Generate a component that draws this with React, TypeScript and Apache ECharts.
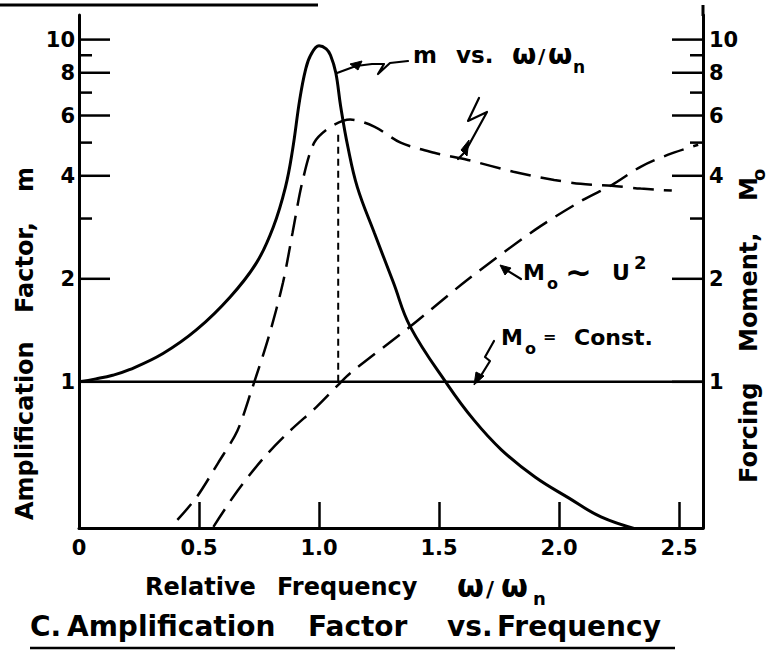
import React, { useEffect, useRef } from "react";
import * as echarts from "echarts";

// ---- axis ranges / ticks ----
const X_MIN = 0;
const X_MAX = 2.6;
const X_INTERVAL = 0.5;
const Y_MIN = 0.374;
const Y_MAX = 11.8;
const yMajorTicks = [1, 2, 4, 6, 8, 10];
const yMinorTicks = [3, 5, 7, 9];

// ---- series (x = ω/ωn, y = value on log scale) ----
// Amplification factor m vs ω/ωn (solid)
const mCurve: number[][] = [
  [0, 1.0], [0.07, 1.02], [0.14, 1.045], [0.21, 1.085], [0.35, 1.21], [0.49, 1.42], [0.63, 1.77],
  [0.74, 2.23], [0.81, 2.84], [0.86, 3.7], [0.89, 4.77], [0.92, 6.7], [0.944, 8.17],
  [0.965, 9.0], [1.0, 9.6], [1.03, 9.4], [1.048, 9.0], [1.07, 8.0], [1.09, 6.4],
  [1.12, 4.87], [1.16, 3.7], [1.23, 2.73], [1.31, 1.95], [1.38, 1.45], [1.536, 0.98],
  [1.645, 0.774], [1.76, 0.633], [1.9, 0.527], [2.04, 0.458], [2.175, 0.403], [2.33, 0.37],
];
// response with Mo ~ U^2 (dashed)
const responseU2: number[][] = [
  [0.41, 0.395], [0.49, 0.46], [0.58, 0.58], [0.66, 0.72], [0.72, 0.95], [0.79, 1.35],
  [0.85, 1.95], [0.89, 2.73], [0.93, 3.82], [0.98, 5.0], [1.05, 5.57], [1.13, 5.84],
  [1.23, 5.57], [1.34, 5.0], [1.48, 4.67], [1.62, 4.45], [1.81, 4.11], [1.98, 3.89],
  [2.09, 3.79], [2.22, 3.74], [2.34, 3.67], [2.47, 3.62],
];
// forcing moment Mo ~ U^2 (dashed)
const momentU2: number[][] = [
  [0.56, 0.377], [0.66, 0.48], [0.77, 0.6], [0.88, 0.72], [0.99, 0.845], [1.08, 0.98],
  [1.13, 1.06], [1.38, 1.45], [1.62, 1.99], [1.9, 2.78], [2.1, 3.4], [2.22, 3.76],
  [2.34, 4.25], [2.455, 4.61], [2.58, 4.93],
];
// Mo = Const. (solid horizontal)
const momentConst: number[][] = [[0, 1], [2.6, 1]];
// dotted marker
const markerLine: number[][] = [[1.08, 1], [1.08, 5.3]];

const FONT = '"DejaVu Sans", Verdana, sans-serif';
const f = (size: number, w = "bold") => `${w} ${size}px ${FONT}`;

function txt(text: string, x: number, y: number, size: number, align = "left", rot = 0) {
  return {
    type: "text",
    x,
    y,
    rotation: rot,
    silent: true,
    style: {
      text,
      font: f(size),
      fill: "#000",
      align,
      textAlign: align,
      verticalAlign: "middle",
      textVerticalAlign: "middle",
    },
  };
}
function pl(points: number[][], w = 2.2) {
  return { type: "polyline", silent: true, shape: { points }, style: { stroke: "#000", lineWidth: w, fill: null, lineJoin: "round", lineCap: "round" } };
}
function pg(points: number[][]) {
  return { type: "polygon", silent: true, shape: { points }, style: { fill: "#000", stroke: "#000", lineWidth: 1 } };
}

export default function App() {
  const ref = useRef<HTMLDivElement>(null);
  useEffect(() => {
    if (!ref.current) return;
    const chart = echarts.init(ref.current, null, { renderer: "svg" });
    const tickData: number[][] = [];
    yMajorTicks.forEach((v) => { tickData.push([X_MIN, v, 1]); tickData.push([X_MAX, v, 1]); });
    yMinorTicks.forEach((v) => { tickData.push([X_MIN, v, 0]); tickData.push([X_MAX, v, 0]); });

    const R = Math.PI / 2;
    const option: any = {
      animation: false,
      backgroundColor: "#fff",
      grid: { left: 79, right: 76, top: 15, bottom: 124, containLabel: false, outerBoundsMode: "none" },
      xAxis: {
        type: "value",
        min: X_MIN,
        max: X_MAX,
        interval: X_INTERVAL,
        axisLine: { show: true, lineStyle: { color: "#000", width: 3 } },
        axisTick: { show: true, inside: true, length: 26, lineStyle: { color: "#000", width: 2.5 } },
        axisLabel: {
          show: true, margin: 9, color: "#000", fontFamily: FONT, fontWeight: "bold", fontSize: 21,
          showMaxLabel: false,
          formatter: (v: number) => (Math.abs(v - 2.6) < 1e-6 ? "" : v === 0 ? "0" : v.toFixed(1)),
        },
        splitLine: { show: false },
      },
      yAxis: [
        {
          type: "log", logBase: 10, min: Y_MIN, max: Y_MAX, position: "left",
          axisLine: { show: true, lineStyle: { color: "#000", width: 3 } },
          axisTick: { show: false }, axisLabel: { show: false }, splitLine: { show: false },
        },
        {
          type: "log", logBase: 10, min: Y_MIN, max: Y_MAX, position: "right",
          axisLine: { show: true, lineStyle: { color: "#000", width: 3 } },
          axisTick: { show: false }, axisLabel: { show: false }, splitLine: { show: false },
        },
      ],
      series: [
        {
          type: "line", data: mCurve, showSymbol: false, symbol: "none", smooth: 0.4,
          lineStyle: { color: "#000", width: 3 }, silent: true, z: 3,
        },
        {
          type: "line", data: responseU2, showSymbol: false, symbol: "none", smooth: 0.3,
          lineStyle: { color: "#000", width: 2.5, type: [21, 10] }, silent: true,
        },
        {
          type: "line", data: momentU2, showSymbol: false, symbol: "none", smooth: 0.3,
          lineStyle: { color: "#000", width: 2.5, type: [21, 10] }, silent: true,
        },
        {
          type: "line", data: momentConst, showSymbol: false, symbol: "none",
          lineStyle: { color: "#000", width: 2.5 }, silent: true,
        },
        {
          type: "line", data: markerLine, showSymbol: false, symbol: "none",
          lineStyle: { color: "#000", width: 2, type: [7, 5] }, silent: true,
        },
        {
          type: "custom", coordinateSystem: "cartesian2d", data: tickData, clip: false, silent: true,
          encode: { x: 0, y: 1 },
          renderItem: (params: any, api: any) => {
            const xv = api.value(0);
            const v = api.value(1);
            const major = api.value(2) === 1;
            const p = api.coord([xv, v]);
            const left = xv < 1;
            const dir = left ? 1 : -1;
            const len = major ? 31 : 13;
            const children: any[] = [
              { type: "line", shape: { x1: p[0], y1: p[1], x2: p[0] + dir * len, y2: p[1] }, style: { stroke: "#000", lineWidth: 2.5 } },
            ];
            if (major) {
              children.push({
                type: "text", x: left ? p[0] - 4 : p[0] + 6, y: p[1],
                style: { text: String(v), font: f(21), fill: "#000", align: left ? "right" : "left", verticalAlign: "middle" },
              });
            }
            return { type: "group", children };
          },
        },
      ],
      graphic: [
        // top cut-off rule
        { type: "line", silent: true, shape: { x1: 0, y1: 5, x2: 318, y2: 5 }, style: { stroke: "#000", lineWidth: 3 } },
        // right axis line extension above plot
        { type: "line", silent: true, shape: { x1: 703, y1: 5, x2: 703, y2: 16 }, style: { stroke: "#000", lineWidth: 3 } },
        // x axis name
        txt("Relative", 145, 587, 24),
        txt("Frequency", 277, 587, 24),
        txt("ω", 457, 586, 31),
        txt("/", 486, 589, 22),
        txt("ω", 501, 586, 31),
        txt("n", 533, 598, 18),
        // title
        txt("C.", 30, 626, 28),
        txt("Amplification", 67, 626, 28),
        txt("Factor", 308, 626, 28),
        txt("vs.", 447, 626, 28),
        txt("Frequency", 497, 626, 28),
        { type: "line", silent: true, shape: { x1: 30, y1: 648, x2: 675, y2: 648 }, style: { stroke: "#000", lineWidth: 2.5 } },
        // left axis name (rotated)
        txt("Amplification", 25, 520, 24, "left", R),
        txt("Factor,", 25, 313, 24, "left", R),
        txt("m", 25, 192, 24, "left", R),
        // right axis name (rotated)
        txt("Forcing", 749, 483, 24, "left", R),
        txt("Moment,", 749, 352, 24, "left", R),
        txt("M", 749, 201, 24, "left", R),
        txt("o", 758, 181, 18, "left", R),
        // annotation: m vs ω/ωn
        txt("m", 413, 55, 23),
        txt("vs.", 456, 55, 23),
        txt("ω", 512, 54, 28),
        txt("/", 538, 56, 20),
        txt("ω", 548, 54, 28),
        txt("n", 573, 67, 17),
        pl([[408, 61], [390, 63], [378, 74], [384, 64], [372, 64], [356, 66], [337, 73]]),
        pg([[350, 64], [362, 61], [358, 70]]),
        // squiggle arrow to dashed response curve
        pl([[479, 98], [468, 121], [487, 112], [465, 152], [458, 159]]),
        pg([[461, 150], [469, 140], [467, 156]]),
        // annotation: Mo ~ U^2
        txt("M", 523, 272, 22),
        txt("o", 547, 283, 16),
        txt("~", 565, 272, 32),
        txt("U", 612, 272, 22),
        txt("2", 634, 262, 18),
        pl([[521, 279], [503, 268]]),
        pg([[500, 265], [511, 268], [505, 275]]),
        // annotation: Mo = Const.
        txt("M", 501, 337, 22),
        txt("o", 525, 348, 16),
        txt("=", 543, 336, 16),
        txt("Const.", 574, 337, 22),
        pl([[494, 341], [485, 357], [490, 361], [477, 382]]),
        pg([[474, 385], [476, 372], [484, 376]]),
      ],
    };
    chart.setOption(option);
    return () => chart.dispose();
  }, []);
  return (
    <div
      ref={ref}
      style={{ position: "absolute", left: 0, top: 0, width: 779, height: 652, background: "#fff" }}
    />
  );
}
